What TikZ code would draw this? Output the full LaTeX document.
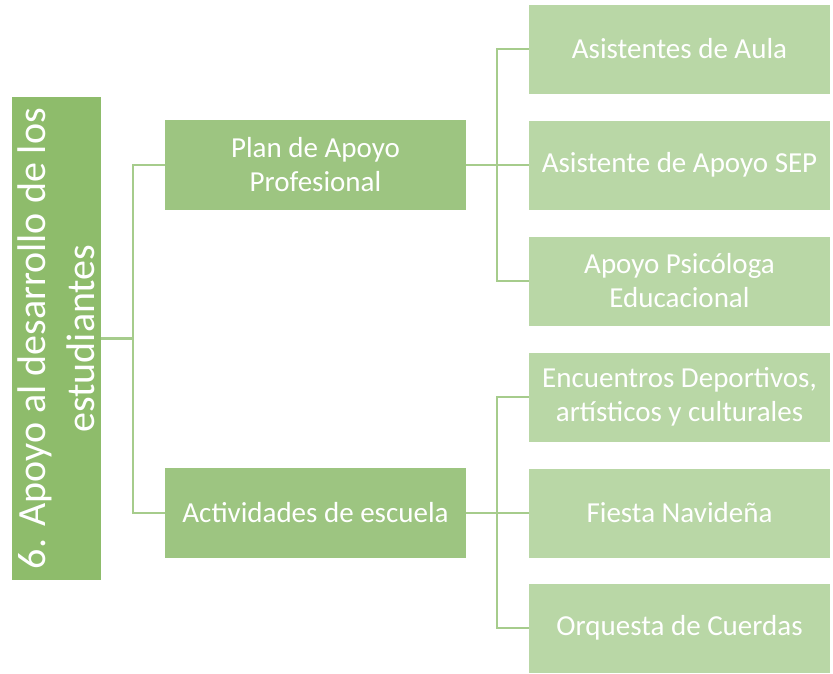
\documentclass[tikz,border=0pt]{standalone}
\usepackage{fontspec}
\setmainfont{Carlito}
\definecolor{rootg}{HTML}{8EBC6B}
\definecolor{midg}{HTML}{9DC581}
\definecolor{leafg}{HTML}{B9D7A6}
\definecolor{lineg}{HTML}{A6CC8C}
\tikzset{
  rootbox/.style={fill=rootg, draw=none, minimum width=483pt, minimum height=89pt, rotate=90, text=white, align=center, inner sep=0pt, font=\fontsize{40}{49}\selectfont},
  midbox/.style={fill=midg, draw=none, minimum width=301pt, minimum height=90pt, text=white, align=center, inner sep=0pt, font=\fontsize{29}{34}\selectfont},
  leafbox/.style={fill=leafg, draw=none, minimum width=301pt, minimum height=89pt, text=white, align=center, inner sep=0pt, font=\fontsize{29}{34}\selectfont},
  conn/.style={draw=lineg, line width=2.9pt}
}
\begin{document}
\begin{tikzpicture}[x=1pt,y=-1pt]
\useasboundingbox (0,0) rectangle (833,673);
\node[rootbox] (root) at (56.5,338.5) {6. Apoyo al desarrollo de los\\estudiantes};
\node[midbox] (plan) at (315.5,165) {Plan de Apoyo\\Profesional};
\node[midbox] (act) at (315.5,513) {Actividades de escuela};
\node[leafbox] (a1) at (679.5,49) {Asistentes de Aula};
\node[leafbox] (a2) at (679.5,165) {Asistente de Apoyo SEP};
\node[leafbox] (a3) at (679.5,281) {Apoyo Psicóloga\\Educacional};
\node[leafbox] (b1) at (679.5,397) {Encuentros Deportivos,\\artísticos y culturales};
\node[leafbox] (b2) at (679.5,513) {Fiesta Navideña};
\node[leafbox] (b3) at (679.5,628) {Orquesta de Cuerdas};
\coordinate (r1) at (133,338.5);
\coordinate (p1) at (497,165);
\coordinate (q1) at (497,513);
\draw[conn] (root.south) -- (r1);
\draw[conn] (r1) |- (plan.west);
\draw[conn] (r1) |- (act.west);
\draw[conn] (plan.east) -- (a2.west);
\draw[conn] (p1) |- (a1.west);
\draw[conn] (p1) |- (a3.west);
\draw[conn] (act.east) -- (b2.west);
\draw[conn] (q1) |- (b1.west);
\draw[conn] (q1) |- (b3.west);
\end{tikzpicture}
\end{document}
